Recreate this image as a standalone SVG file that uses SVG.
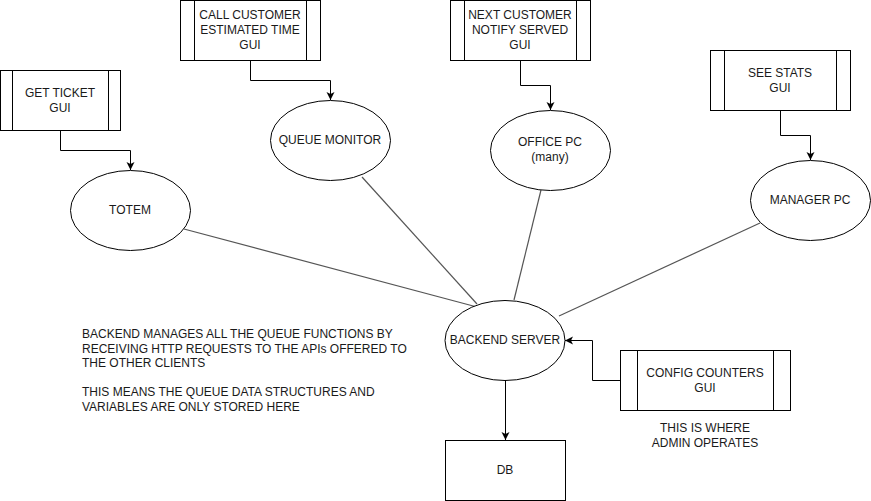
<svg xmlns="http://www.w3.org/2000/svg" width="871" height="501" viewBox="0 0 871 501">
<style>
.shape{fill:#fff;stroke:#000;stroke-width:1}
.t{font-family:"Liberation Sans",Arial,sans-serif;font-size:12px;fill:#1a1a1a;text-anchor:middle}
.tl{font-family:"Liberation Sans",Arial,sans-serif;font-size:12px;fill:#1a1a1a}
.arrow{fill:none;stroke:#000;stroke-width:1}
.link{fill:none;stroke:#555;stroke-width:1.2}
</style>
<defs>
<marker id="ah" markerWidth="10" markerHeight="10" refX="8" refY="4" orient="auto" markerUnits="userSpaceOnUse">
<path d="M0,0 L8,4 L0,8 L2,4 z" fill="#000"/>
</marker>
</defs>
<rect width="871" height="501" fill="#fff"/>
<g id="connectors">
<path class="link" d="M184,229 L477,307"/>
<path class="link" d="M362,177 L477,304"/>
<path class="link" d="M541,190 L514,300"/>
<path class="link" d="M760,223 L559,316"/>
<path class="arrow" d="M60.5,130 V150.5 H130.5 V170" marker-end="url(#ah)"/>
<path class="arrow" d="M250.5,60 V80.5 H330.5 V100" marker-end="url(#ah)"/>
<path class="arrow" d="M520.5,60 V85.5 H550.5 V110" marker-end="url(#ah)"/>
<path class="arrow" d="M780.5,110 V135.5 H810.5 V160" marker-end="url(#ah)"/>
<path class="arrow" d="M620,380.5 H592.5 V340.5 H565" marker-end="url(#ah)"/>
<path class="arrow" d="M505.5,380 V440" marker-end="url(#ah)"/>
</g>
<g id="get-ticket-gui">
<rect class="shape" x="0.5" y="70.5" width="120" height="60"/>
<path class="arrow" d="M12.5,70.5 V130.5 M108.5,70.5 V130.5"/>
<text class="t" x="60" y="97">GET TICKET</text>
<text class="t" x="60" y="112">GUI</text>
</g>
<g id="totem">
<ellipse class="shape" cx="130.5" cy="210.5" rx="60" ry="40"/>
<text class="t" x="130" y="214">TOTEM</text>
</g>
<g id="call-customer-gui">
<rect class="shape" x="180.5" y="0.5" width="140" height="60"/>
<path class="arrow" d="M194.5,0.5 V60.5 M306.5,0.5 V60.5"/>
<text class="t" x="250" y="19">CALL CUSTOMER</text>
<text class="t" x="250" y="34">ESTIMATED TIME</text>
<text class="t" x="250" y="49">GUI</text>
</g>
<g id="queue-monitor">
<ellipse class="shape" cx="330.5" cy="140.5" rx="60" ry="40"/>
<text class="t" x="330" y="144">QUEUE MONITOR</text>
</g>
<g id="next-customer-gui">
<rect class="shape" x="450.5" y="0.5" width="140" height="60"/>
<path class="arrow" d="M464.5,0.5 V60.5 M576.5,0.5 V60.5"/>
<text class="t" x="520" y="19">NEXT CUSTOMER</text>
<text class="t" x="520" y="34">NOTIFY SERVED</text>
<text class="t" x="520" y="49">GUI</text>
</g>
<g id="office-pc">
<ellipse class="shape" cx="550.5" cy="150.5" rx="60" ry="40"/>
<text class="t" x="550" y="146">OFFICE PC</text>
<text class="t" x="550" y="161">(many)</text>
</g>
<g id="see-stats-gui">
<rect class="shape" x="710.5" y="50.5" width="140" height="60"/>
<path class="arrow" d="M724.5,50.5 V110.5 M836.5,50.5 V110.5"/>
<text class="t" x="780" y="77">SEE STATS</text>
<text class="t" x="780" y="92">GUI</text>
</g>
<g id="manager-pc">
<ellipse class="shape" cx="810.5" cy="200.5" rx="60" ry="40"/>
<text class="t" x="810" y="204">MANAGER PC</text>
</g>
<g id="backend-server">
<ellipse class="shape" cx="505" cy="340.5" rx="60" ry="40"/>
<text class="t" x="505" y="344">BACKEND SERVER</text>
</g>
<g id="config-counters-gui">
<rect class="shape" x="620.5" y="350.5" width="170" height="60"/>
<path class="arrow" d="M637.5,350.5 V410.5 M773.5,350.5 V410.5"/>
<text class="t" x="705" y="377">CONFIG COUNTERS</text>
<text class="t" x="705" y="392">GUI</text>
</g>
<g id="admin-note">
<text class="t" x="705" y="432">THIS IS WHERE</text>
<text class="t" x="705" y="447">ADMIN OPERATES</text>
</g>
<g id="db">
<rect class="shape" x="445.5" y="440.5" width="120" height="60"/>
<text class="t" x="505" y="474">DB</text>
</g>
<g id="backend-note">
<text class="tl" x="82" y="338">BACKEND MANAGES ALL THE QUEUE FUNCTIONS BY</text>
<text class="tl" x="82" y="352.5">RECEIVING HTTP REQUESTS TO THE APIs OFFERED TO</text>
<text class="tl" x="82" y="367">THE OTHER CLIENTS</text>
<text class="tl" x="82" y="396">THIS MEANS THE QUEUE DATA STRUCTURES AND</text>
<text class="tl" x="82" y="410.5">VARIABLES ARE ONLY STORED HERE</text>
</g>
</svg>
